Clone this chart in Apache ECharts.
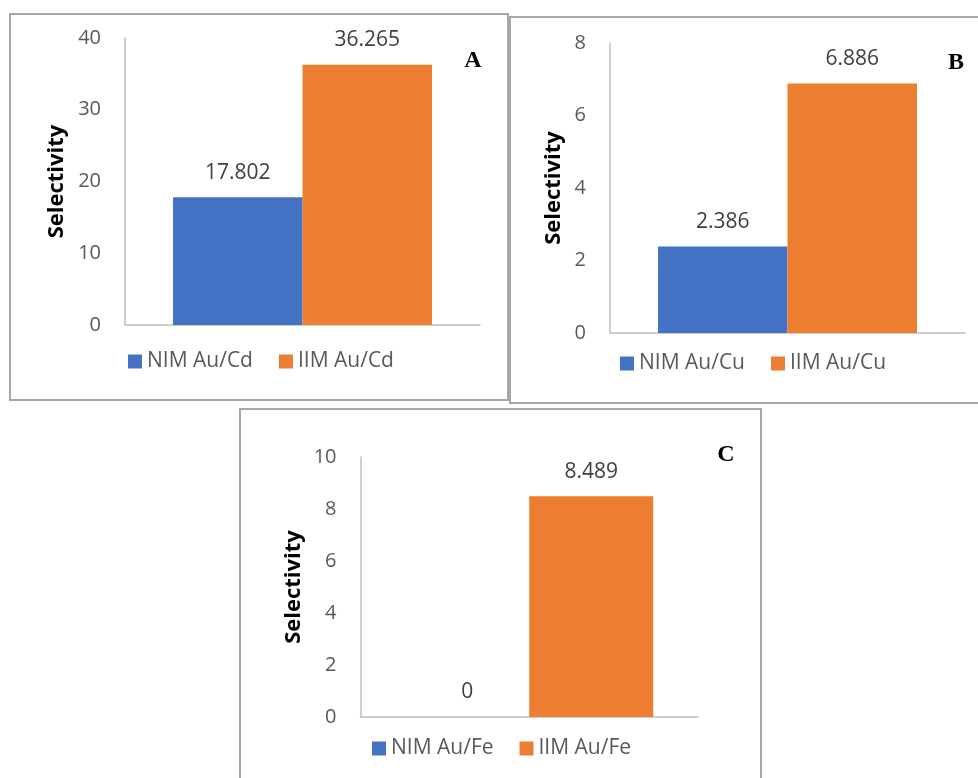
<!DOCTYPE html>
<html>
<head>
<meta charset="utf-8">
<script src="https://cdn.jsdelivr.net/npm/echarts@6/dist/echarts.min.js"></script>
<style>
html,body{margin:0;padding:0;background:#fff;}
#chart{width:978px;height:778px;}
</style>
</head>
<body>
<div id="chart"></div>
<script>
const categories = [''];
const namesA = ['NIM Au/Cd', 'IIM Au/Cd'];
const valuesA = [17.802, 36.265];
const namesB = ['NIM Au/Cu', 'IIM Au/Cu'];
const valuesB = [2.386, 6.886];
const namesC = ['NIM Au/Fe', 'IIM Au/Fe'];
const valuesC = [0, 8.489];
const yMax = [40, 8, 10];
const yInterval = [10, 2, 2];
const panelLetters = ['A', 'B', 'C'];
const yName = 'Selectivity';

const colors = ['#4472C4', '#ED7D31'];
const FONT = 'Open Sans';
const chart = echarts.init(document.getElementById('chart'), null, {renderer: 'canvas'});

const grids = [
  {left: 125, top: 38, width: 355, height: 287},
  {left: 610, top: 43, width: 355, height: 290},
  {left: 360.5, top: 457, width: 337.5, height: 260}
];
const nameGaps = [57, 45, 56];
const barWidths = [129.5, 129.5, 124];
const legendPos = [{left: 128, top: 351}, {left: 620, top: 353}, {left: 372, top: 738}];
const allNames = [namesA, namesB, namesC];
const allValues = [valuesA, valuesB, valuesC];

const xAxes = [], yAxes = [], series = [], legends = [];
for (let i = 0; i < 3; i++) {
  xAxes.push({
    gridIndex: i, type: 'category', data: categories,
    axisLine: {show: true, lineStyle: {color: '#bfbfbf', width: 1.5}},
    axisTick: {show: false}, axisLabel: {show: false}, splitLine: {show: false}
  });
  yAxes.push({
    gridIndex: i, type: 'value', min: 0, max: yMax[i], interval: yInterval[i],
    name: yName, nameLocation: 'middle', nameGap: nameGaps[i], nameRotate: 90,
    nameTextStyle: {fontFamily: FONT, fontWeight: 'bold', fontSize: 22, color: '#000'},
    axisLine: {show: true, lineStyle: {color: '#bfbfbf', width: 1.5}},
    axisTick: {show: false},
    axisLabel: {fontFamily: FONT, fontSize: 20, color: '#595959', margin: 24},
    splitLine: {show: false}
  });
  for (let j = 0; j < 2; j++) {
    series.push({
      type: 'bar', name: allNames[i][j], xAxisIndex: i, yAxisIndex: i,
      data: [allValues[i][j]], barWidth: barWidths[i], barGap: '0%',
      itemStyle: {color: colors[j]},
      label: {show: true, position: 'top', distance: 14, formatter: '{c}',
        fontFamily: FONT, fontSize: 21, color: '#404040'}
    });
  }
  legends.push({
    data: allNames[i], left: legendPos[i].left, top: legendPos[i].top, padding: 0,
    orient: 'horizontal', icon: 'rect', itemWidth: 14, itemHeight: 14, itemGap: 26,
    textStyle: {fontFamily: FONT, fontSize: 21, color: '#595959'}, selectedMode: false
  });
}

const frameStyle = {fill: 'none', stroke: '#a6a6a6', lineWidth: 2};
const letterStyle = (t, x, y) => ({
  type: 'text', x: x, y: y,
  style: {text: t, font: 'bold 24px "Liberation Serif", "Times New Roman", serif',
    fill: '#000', align: 'center', verticalAlign: 'middle'}
});

chart.setOption({
  animation: false,
  grid: grids,
  xAxis: xAxes,
  yAxis: yAxes,
  legend: legends,
  series: series,
  graphic: [
    {type: 'rect', shape: {x: 10, y: 14, width: 498, height: 386}, style: frameStyle, silent: true},
    {type: 'rect', shape: {x: 510, y: 17, width: 480, height: 386}, style: frameStyle, silent: true},
    {type: 'rect', shape: {x: 240, y: 409, width: 521, height: 400}, style: frameStyle, silent: true},
    letterStyle(panelLetters[0], 473, 61),
    letterStyle(panelLetters[1], 956, 63),
    letterStyle(panelLetters[2], 726, 455)
  ]
});
</script>
</body>
</html>
